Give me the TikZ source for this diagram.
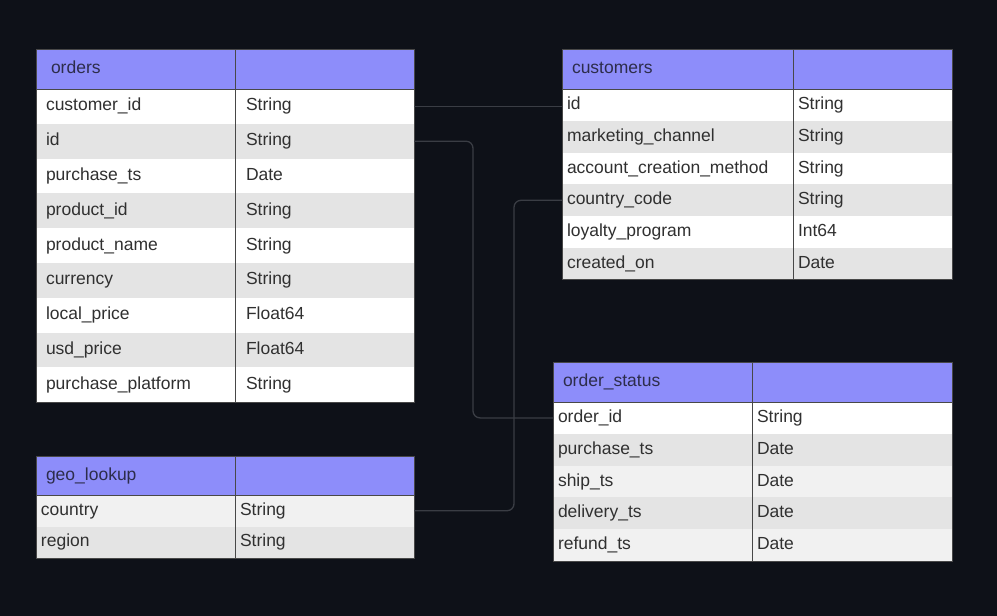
\documentclass[tikz,border=0pt]{standalone}
\usepackage{fontspec}
\setmainfont{Liberation Sans}
\usetikzlibrary{positioning}
\definecolor{bg}{RGB}{14,17,24}
\definecolor{headfill}{RGB}{141,141,250}
\definecolor{rowdarkfill}{RGB}{228,228,228}
\definecolor{rowpalefill}{RGB}{241,241,241}
\definecolor{celltext}{RGB}{48,48,48}
\definecolor{headtext}{RGB}{45,45,75}
\definecolor{frameline}{RGB}{72,72,72}
\definecolor{linkline}{RGB}{58,61,68}
\tikzset{% table cells
    cell/.style={anchor=north west, outer sep=0pt, inner ysep=0pt, align=left,
        text=celltext, font=\fontsize{17.5}{20}\selectfont, fill=white,
        text height=13pt, text depth=4pt},
    rowdark/.style={fill=rowdarkfill},
    rowpale/.style={fill=rowpalefill},
    head/.style={cell, fill=headfill, text=headtext, minimum height=40pt},
    frame/.style={draw=frameline, line width=1pt},
    link/.style={draw=linkline, line width=1.3pt, rounded corners=7pt},
    % orders
    ordhead/.style={head, inner xsep=15pt, text width=169pt},
    ordheadtype/.style={head, inner xsep=0pt, text width=179pt},
    ordfield/.style={cell, inner xsep=10pt, text width=179pt, minimum height=34.8pt},
    ordtype/.style={cell, inner xsep=11pt, text width=157pt, minimum height=34.8pt},
    % customers
    cushead/.style={head, inner xsep=10pt, text width=211pt},
    cusheadtype/.style={head, inner xsep=0pt, text width=159pt},
    cusfield/.style={cell, inner xsep=5pt, text width=221pt, minimum height=31.8pt},
    custype/.style={cell, inner xsep=5pt, text width=149pt, minimum height=31.8pt},
    % order_status
    sthead/.style={head, inner xsep=10pt, text width=179pt},
    stheadtype/.style={head, inner xsep=0pt, text width=200pt},
    stfield/.style={cell, inner xsep=5pt, text width=189pt, minimum height=31.8pt},
    sttype/.style={cell, inner xsep=5pt, text width=190pt, minimum height=31.8pt},
    % geo_lookup
    geohead/.style={head, inner xsep=10pt, text width=179pt, minimum height=39pt},
    geoheadtype/.style={head, inner xsep=0pt, text width=179pt, minimum height=39pt},
    geofield/.style={cell, inner xsep=5pt, text width=189pt, minimum height=31.5pt},
    geotype/.style={cell, inner xsep=5pt, text width=169pt, minimum height=31.5pt}
}

\begin{document}
\begin{tikzpicture}[x=1pt, y=-1pt]
    	\fill[bg] (0,0) rectangle (997,616);
    	\useasboundingbox (0,0) rectangle (997,616);
    
    	% orders
    	\node[ordhead] (o-h) at (36,49) {orders};
    	\node[ordheadtype, right=0pt of o-h] (o-ht) {};
    	\node[ordfield, below=0pt of o-h] (o1) {customer\_id};
    	\node[ordtype, right=0pt of o1] (o1t) {String};
    	\node[ordfield, rowdark, below=0pt of o1] (o2) {id};
    	\node[ordtype, rowdark, right=0pt of o2] (o2t) {String};
    	\node[ordfield, below=0pt of o2] (o3) {purchase\_ts};
    	\node[ordtype, right=0pt of o3] (o3t) {Date};
    	\node[ordfield, rowdark, below=0pt of o3] (o4) {product\_id};
    	\node[ordtype, rowdark, right=0pt of o4] (o4t) {String};
    	\node[ordfield, below=0pt of o4] (o5) {product\_name};
    	\node[ordtype, right=0pt of o5] (o5t) {String};
    	\node[ordfield, rowdark, below=0pt of o5] (o6) {currency};
    	\node[ordtype, rowdark, right=0pt of o6] (o6t) {String};
    	\node[ordfield, below=0pt of o6] (o7) {local\_price};
    	\node[ordtype, right=0pt of o7] (o7t) {Float64};
    	\node[ordfield, rowdark, below=0pt of o7] (o8) {usd\_price};
    	\node[ordtype, rowdark, right=0pt of o8] (o8t) {Float64};
    	\node[ordfield, below=0pt of o8] (o9) {purchase\_platform};
    	\node[ordtype, right=0pt of o9] (o9t) {String};
    	\draw[frame] (o-h.north west) rectangle (o9t.south east);
    	\draw[frame] (o-ht.north west) -- (o9t.south west);
    	\draw[frame, line width=0.6pt] (o-h.south west) -- (o-ht.south east);
    
    	% customers
    	\node[cushead] (c-h) at (562,49) {customers};
    	\node[cusheadtype, right=0pt of c-h] (c-ht) {};
    	\node[cusfield, below=0pt of c-h] (c1) {id};
    	\node[custype, right=0pt of c1] (c1t) {String};
    	\node[cusfield, rowdark, below=0pt of c1] (c2) {marketing\_channel};
    	\node[custype, rowdark, right=0pt of c2] (c2t) {String};
    	\node[cusfield, below=0pt of c2] (c3) {account\_creation\_method};
    	\node[custype, right=0pt of c3] (c3t) {String};
    	\node[cusfield, rowdark, below=0pt of c3] (c4) {country\_code};
    	\node[custype, rowdark, right=0pt of c4] (c4t) {String};
    	\node[cusfield, below=0pt of c4] (c5) {loyalty\_program};
    	\node[custype, right=0pt of c5] (c5t) {Int64};
    	\node[cusfield, rowdark, below=0pt of c5] (c6) {created\_on};
    	\node[custype, rowdark, right=0pt of c6] (c6t) {Date};
    	\draw[frame] (c-h.north west) rectangle (c6t.south east);
    	\draw[frame] (c-ht.north west) -- (c6t.south west);
    	\draw[frame, line width=0.6pt] (c-h.south west) -- (c-ht.south east);
    
    	% order_status
    	\node[sthead] (s-h) at (553,362) {order\_status};
    	\node[stheadtype, right=0pt of s-h] (s-ht) {};
    	\node[stfield, below=0pt of s-h] (s1) {order\_id};
    	\node[sttype, right=0pt of s1] (s1t) {String};
    	\node[stfield, rowdark, below=0pt of s1] (s2) {purchase\_ts};
    	\node[sttype, rowdark, right=0pt of s2] (s2t) {Date};
    	\node[stfield, rowpale, below=0pt of s2] (s3) {ship\_ts};
    	\node[sttype, rowpale, right=0pt of s3] (s3t) {Date};
    	\node[stfield, rowdark, below=0pt of s3] (s4) {delivery\_ts};
    	\node[sttype, rowdark, right=0pt of s4] (s4t) {Date};
    	\node[stfield, rowpale, below=0pt of s4] (s5) {refund\_ts};
    	\node[sttype, rowpale, right=0pt of s5] (s5t) {Date};
    	\draw[frame] (s-h.north west) rectangle (s5t.south east);
    	\draw[frame] (s-ht.north west) -- (s5t.south west);
    	\draw[frame, line width=0.6pt] (s-h.south west) -- (s-ht.south east);
    
    	% geo_lookup
    	\node[geohead] (g-h) at (36,456) {geo\_lookup};
    	\node[geoheadtype, right=0pt of g-h] (g-ht) {};
    	\node[geofield, rowpale, below=0pt of g-h] (g1) {country};
    	\node[geotype, rowpale, right=0pt of g1] (g1t) {String};
    	\node[geofield, rowdark, below=0pt of g1] (g2) {region};
    	\node[geotype, rowdark, right=0pt of g2] (g2t) {String};
    	\draw[frame] (g-h.north west) rectangle (g2t.south east);
    	\draw[frame] (g-ht.north west) -- (g2t.south west);
    	\draw[frame, line width=0.6pt] (g-h.south west) -- (g-ht.south east);
    
    	% links
    	\coordinate (jog-a) at (473,0);
    	\coordinate (jog-b) at (514,0);
    	\draw[link] (o1t.east) -- (o1t.east -| c1.west);
    	\draw[link] (o2t.east) -| (jog-a |- s1.west) -- (s1.west);
    	\draw[link] (c4.west) -| (jog-b |- g1t.east) -- (g1t.east);
    
\end{tikzpicture}
\end{document}
